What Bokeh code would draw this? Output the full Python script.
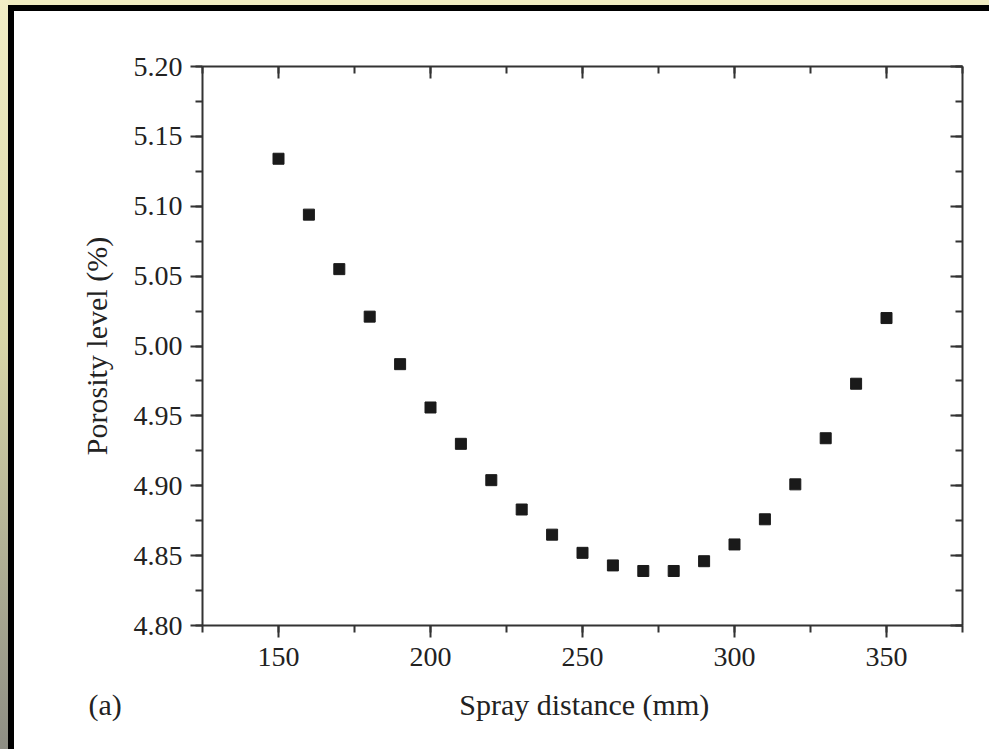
from bokeh.plotting import figure
from bokeh.models import (LinearAxis, SingleIntervalTicker, PrintfTickFormatter,
                          CustomJSTickFormatter, Range1d, Title)
from bokeh.embed import file_html
from bokeh.resources import INLINE

spray_distance = [150, 160, 170, 180, 190, 200, 210, 220, 230, 240, 250,
                  260, 270, 280, 290, 300, 310, 320, 330, 340, 350]
porosity = [5.134, 5.094, 5.055, 5.021, 4.987, 4.956, 4.930, 4.904, 4.883,
            4.865, 4.852, 4.843, 4.839, 4.839, 4.846, 4.858, 4.876, 4.901,
            4.934, 4.973, 5.020]
x_label = "Spray distance (mm)"
y_label = "Porosity level (%)"
panel_tag = "(a)"

FONT = "Liberation Serif"
AX = "#333333"

p = figure(width=989, height=749, output_backend="svg", toolbar_location=None,
           x_range=Range1d(125, 375), y_range=Range1d(4.80, 5.20),
           x_axis_location=None, y_axis_location=None,
           min_border_left=202, min_border_right=27,
           min_border_top=66, min_border_bottom=124)
p.background_fill_color = "white"
p.border_fill_color = None
p.outline_line_color = None
p.xgrid.visible = False
p.ygrid.visible = False
p.styles = {
    "background": (
        "linear-gradient(#ffffff,#ffffff) 14px 11px / 975px 738px no-repeat, "
        "linear-gradient(#000000,#000000) 8px 5px / 981px 744px no-repeat, "
        "linear-gradient(to bottom, #f2eec6, #d8d6a8 45%, #8e8e84) 0 0 / 8px 100% no-repeat, "
        "#f0ecc2"
    )
}

xt = SingleIntervalTicker(interval=50, num_minor_ticks=2)
yt = SingleIntervalTicker(interval=0.05, num_minor_ticks=2)


def style(ax, inside, labels):
    ax.axis_line_color = AX
    ax.axis_line_width = 2
    ax.major_tick_line_color = AX
    ax.minor_tick_line_color = AX
    ax.major_tick_line_width = 2
    ax.minor_tick_line_width = 2
    if inside:
        ax.major_tick_in, ax.major_tick_out = 12, 0
        ax.minor_tick_in, ax.minor_tick_out = 7, 0
    else:
        ax.major_tick_in, ax.major_tick_out = 0, 12
        ax.minor_tick_in, ax.minor_tick_out = 0, 7
    if labels:
        ax.major_label_text_font = FONT
        ax.major_label_text_font_size = "28px"
        ax.major_label_text_color = "#222222"
        ax.axis_label_text_font = FONT
        ax.axis_label_text_font_size = "30px"
        ax.axis_label_text_font_style = "normal"
        ax.axis_label_text_color = "#222222"
    else:
        ax.formatter = CustomJSTickFormatter(code="return ''")


bottom = LinearAxis(ticker=xt)
style(bottom, False, True)
bottom.major_label_standoff = 10
p.add_layout(bottom, "below")

# panel tag "(a)" and x-axis title share one row under the axis
caption = Title(text=panel_tag + "\u00a0" * 45 + x_label, align="left",
                offset=-114, standoff=34, text_font=FONT,
                text_font_size="30px", text_font_style="normal",
                text_color="#222222")
p.add_layout(caption, "below")

left = LinearAxis(ticker=yt, axis_label=y_label,
                  formatter=PrintfTickFormatter(format="%.2f"))
style(left, False, True)
left.major_label_standoff = 8
left.axis_label_standoff = 18
p.add_layout(left, "left")

top = LinearAxis(ticker=xt)
style(top, True, False)
p.add_layout(top, "above")

right = LinearAxis(ticker=yt)
style(right, True, False)
p.add_layout(right, "right")

p.scatter(spray_distance, porosity, marker="square", size=11,
          fill_color="#1a1a1a", line_color="#1a1a1a")

open("out.html", "w").write(file_html(p, INLINE))
